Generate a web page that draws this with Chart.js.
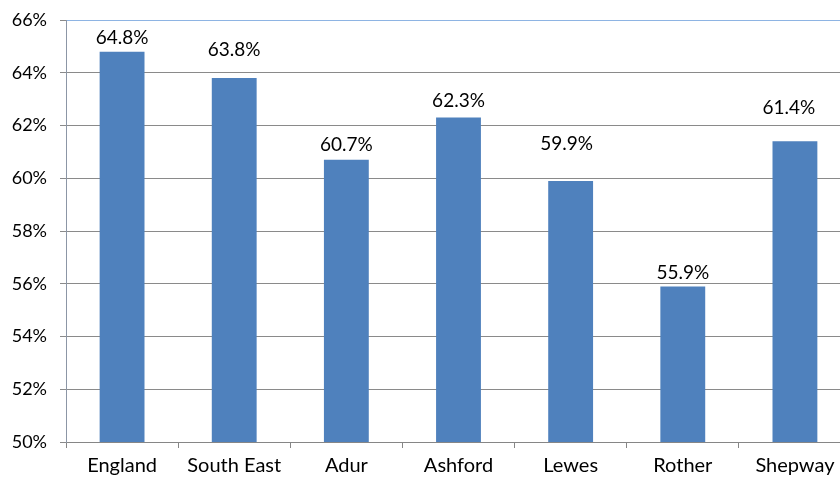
<!DOCTYPE html>
<html>
<head>
<meta charset="utf-8">
<script src="https://cdn.jsdelivr.net/npm/chart.js@4/dist/chart.umd.min.js"></script>
<style>
    html, body { margin: 0; padding: 0; background: #fff; overflow: hidden; }
    #wrap { width: 840px; height: 478px; overflow: hidden; }
</style>
</head>
<body>
<div id="wrap"><canvas id="chart" width="852" height="478"></canvas></div>
<script>
const areas = ['England', 'South East', 'Adur', 'Ashford', 'Lewes', 'Rother', 'Shepway'];
const rates = [64.8, 63.8, 60.7, 62.3, 59.9, 55.9, 61.4];

// label nudges as placed in the original (px from bar top)
const labelLift = [14, 28, 15, 17, 37, 14, 33];
const labelShift = [0, 0, 0, 0, -4, 0, -6];

const FONT = 'Lato, "Open Sans", sans-serif';

const valueLabels = {
    id: 'valueLabels',
    afterDatasetsDraw(chart) {
        const ctx = chart.ctx;
        const meta = chart.getDatasetMeta(0);
        ctx.save();
        ctx.font = '19px ' + FONT;
        ctx.fillStyle = '#000';
        ctx.textAlign = 'center';
        ctx.textBaseline = 'middle';
        meta.data.forEach((bar, i) => {
            ctx.fillText(rates[i].toFixed(1) + '%', bar.x + labelShift[i], bar.y - labelLift[i]);
        });
        ctx.restore();
    },
};

new Chart(document.getElementById('chart'), {
    type: 'bar',
    data: {
        labels: areas,
        datasets: [
            {
                data: rates,
                backgroundColor: '#4F81BD',
                borderWidth: 0,
                barPercentage: 0.4,
                categoryPercentage: 1,
            },
        ],
    },
    options: {
        responsive: false,
        animation: false,
        layout: { padding: { top: 20, right: 1, bottom: 0, left: 0 } },
        plugins: {
            legend: { display: false },
            tooltip: { enabled: false },
        },
        scales: {
            x: {
                afterFit: scale => { scale.height = 36; },
                grid: {
                    offset: true,
                    drawOnChartArea: false,
                    tickLength: 6,
                    color: '#868686',
                },
                border: { color: '#868686' },
                ticks: {
                    color: '#000',
                    padding: 6,
                    font: { family: FONT, size: 20 },
                    maxRotation: 0,
                },
            },
            y: {
                min: 50,
                max: 66,
                afterFit: scale => {
                    scale.width = 66;
                    scale.paddingTop = 0;
                    scale.paddingBottom = 0;
                },
                grid: {
                    tickLength: 6,
                    color: ctx => ctx.tick && ctx.tick.value === 66 ? '#8EB4E3' : '#8A8A8A',
                    tickColor: '#8A8A8A',
                },
                border: { color: '#8C96A6' },
                ticks: {
                    stepSize: 2,
                    color: '#000',
                    padding: 13,
                    font: { family: FONT, size: 18 },
                    callback: v => v + '%',
                },
            },
        },
    },
    plugins: [valueLabels],
});
</script>
</body>
</html>
